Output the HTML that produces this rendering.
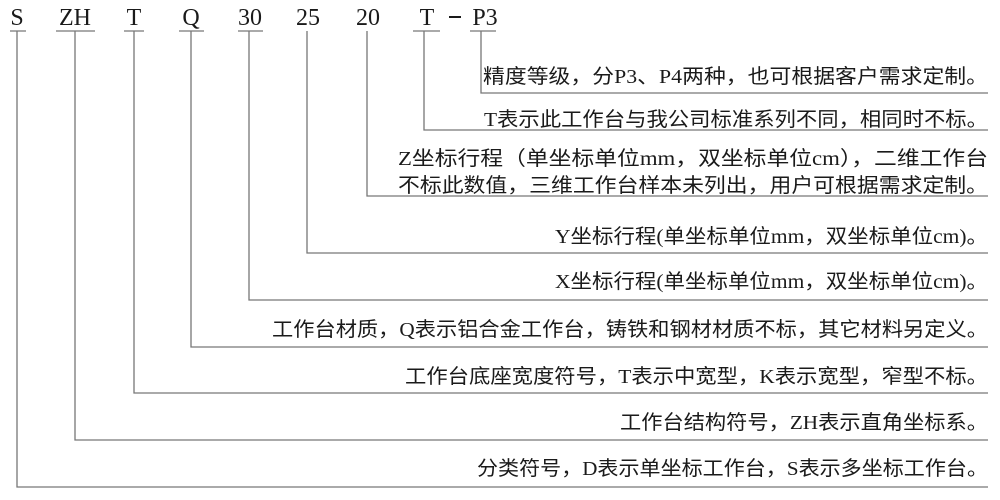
<!DOCTYPE html>
<html><head><meta charset="utf-8"><style>
html,body{margin:0;padding:0;background:#fff;}
svg{display:block}
text{font-family:"Liberation Serif","Noto Sans CJK SC",sans-serif;fill:#1a1a1a;font-size:20px;}
.t{font-size:24px}
</style></head><body>
<svg width="1000" height="500" viewBox="0 0 1000 500">
<g stroke="#777" stroke-width="1.3" fill="none">
<path d="M17 31V487H988"/>
<path d="M75 31V440H988"/>
<path d="M134 31V393H988"/>
<path d="M191 31V347H988"/>
<path d="M249 31V300H988"/>
<path d="M307 31V253H988"/>
<path d="M367 31V196H988"/>
<path d="M424 31V130H988"/>
<path d="M481 31V93H988"/>
<path d="M10 31H26M56 31H95M124 31H144M179 31H204M238 31H263M413 31H440M470 31H496"/>
</g>
<text class="t" x="17" y="25" text-anchor="middle">S</text>
<text class="t" x="75" y="25" text-anchor="middle">ZH</text>
<text class="t" x="134" y="25" text-anchor="middle">T</text>
<text class="t" x="191" y="25" text-anchor="middle">Q</text>
<text class="t" x="250" y="25" text-anchor="middle">30</text>
<text class="t" x="308" y="25" text-anchor="middle">25</text>
<text class="t" x="368" y="25" text-anchor="middle">20</text>
<text class="t" x="427" y="25" text-anchor="middle">T</text>
<rect x="449" y="16" width="12" height="2" fill="#1a1a1a"/>
<text class="t" x="485" y="25" text-anchor="middle">P3</text>
<text x="483" y="83" textLength="505" lengthAdjust="spacingAndGlyphs">精度等级，分P3、P4两种，也可根据客户需求定制。</text>
<text x="484" y="126" textLength="504" lengthAdjust="spacingAndGlyphs">T表示此工作台与我公司标准系列不同，相同时不标。</text>
<text x="398" y="165" textLength="590" lengthAdjust="spacingAndGlyphs">Z坐标行程（单坐标单位mm，双坐标单位cm），二维工作台</text>
<text x="398" y="192" textLength="590" lengthAdjust="spacingAndGlyphs">不标此数值，三维工作台样本未列出，用户可根据需求定制。</text>
<text x="555" y="243" textLength="433" lengthAdjust="spacingAndGlyphs">Y坐标行程(单坐标单位mm，双坐标单位cm)。</text>
<text x="555" y="288" textLength="433" lengthAdjust="spacingAndGlyphs">X坐标行程(单坐标单位mm，双坐标单位cm)。</text>
<text x="272" y="336" textLength="716" lengthAdjust="spacingAndGlyphs">工作台材质，Q表示铝合金工作台，铸铁和钢材材质不标，其它材料另定义。</text>
<text x="405" y="383" textLength="583" lengthAdjust="spacingAndGlyphs">工作台底座宽度符号，T表示中宽型，K表示宽型，窄型不标。</text>
<text x="620" y="429" textLength="368" lengthAdjust="spacingAndGlyphs">工作台结构符号，ZH表示直角坐标系。</text>
<text x="477" y="475" textLength="511" lengthAdjust="spacingAndGlyphs">分类符号，D表示单坐标工作台，S表示多坐标工作台。</text>
</svg>
</body></html>
